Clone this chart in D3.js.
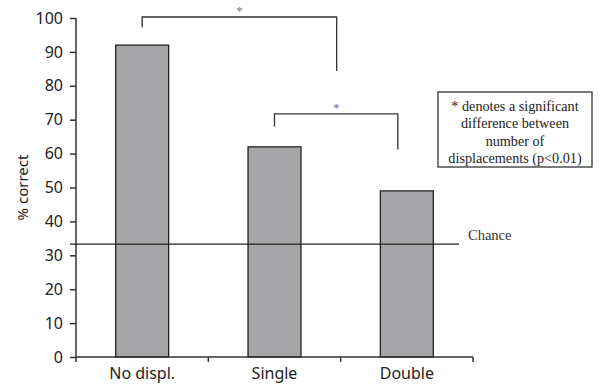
<!DOCTYPE html>
<html>
<head>
<meta charset="utf-8">
<script src="https://cdn.jsdelivr.net/npm/d3@7"></script>
<style>
  body { margin: 0; background: #fff; }
  svg { display: block; }
  .serif { font-family: "Liberation Serif", "Times New Roman", serif; }
  .sans { font-family: "Noto Sans", sans-serif; }
</style>
</head>
<body>
<svg id="chart"></svg>
<script>
const categories = ["No displ.", "Single", "Double"];
const values = [92, 62, 49];
const chance = 33.3;
const yTicks = [0, 10, 20, 30, 40, 50, 60, 70, 80, 90, 100];
// brackets: [from category, to category, top value, left end value, right end value]
const brackets = [
  ["No displ.", "Double", 100.3, 97.3, 84.4],
  ["Single", "Double", 71.7, 68, 61.2],
];
const noteLines = ["* denotes a significant", "difference between", "number of", "displacements (p<0.01)"];

const W = 602, H = 385;
const margin = { top: 18, right: 129, bottom: 28, left: 76 };
const width = W - margin.left - margin.right;
const height = H - margin.top - margin.bottom;

const svg = d3.select("#chart").attr("width", W).attr("height", H);
const g = svg.append("g").attr("transform", `translate(${margin.left},${margin.top})`);

const x = d3.scaleBand().domain(categories).range([0, width]).paddingInner(0.6).paddingOuter(0.3);
const y = d3.scaleLinear().domain([0, 100]).range([height, 0]);
const cx = (c) => x(c) + x.bandwidth() / 2;
const axisColor = "#333";

// bars
g.selectAll("rect.bar")
  .data(values)
  .join("rect")
  .attr("class", "bar")
  .attr("x", (d, i) => x(categories[i]))
  .attr("y", (d) => y(d))
  .attr("width", x.bandwidth())
  .attr("height", (d) => y(0) - y(d))
  .attr("fill", "#a6a6a8")
  .attr("stroke", "#222")
  .attr("stroke-width", 1.3);

// y axis
const yAxis = g.append("g")
  .call(d3.axisLeft(y).tickValues(yTicks).tickSize(6).tickPadding(7));
yAxis.select(".domain").attr("stroke", axisColor).attr("stroke-width", 1.5).attr("d", `M0,${y(100)}V${height + 5}`);
yAxis.selectAll(".tick line").attr("stroke", axisColor).attr("stroke-width", 1.5);
yAxis.selectAll(".tick text").attr("class", "sans").attr("font-family", null).attr("font-size", 16).attr("fill", "#222");

// x axis with ticks at category boundaries
const step = width / categories.length;
const bounds = d3.range(categories.length + 1).map((i) => i * step);
const xg = g.append("g").attr("transform", `translate(0,${height})`);
xg.append("line").attr("x1", 0).attr("x2", width).attr("stroke", axisColor).attr("stroke-width", 1.5);
xg.selectAll("line.tk").data(bounds.slice(1)).join("line")
  .attr("class", "tk")
  .attr("x1", (d) => d).attr("x2", (d) => d)
  .attr("y1", 0).attr("y2", 5)
  .attr("stroke", axisColor).attr("stroke-width", 1.5);
xg.selectAll("text").data(categories).join("text")
  .attr("class", "sans")
  .attr("x", (d) => cx(d))
  .attr("y", 22)
  .attr("text-anchor", "middle")
  .attr("font-size", 16).attr("fill", "#222")
  .text((d) => d);

// y label
svg.append("text")
  .attr("class", "sans")
  .attr("transform", `translate(28,${margin.top + y(50)}) rotate(-90)`)
  .attr("text-anchor", "middle")
  .attr("font-size", 15).attr("fill", "#222")
  .text("% correct");

// chance line
g.append("line")
  .attr("x1", -6).attr("x2", width - 14)
  .attr("y1", y(chance)).attr("y2", y(chance))
  .attr("stroke", "#222").attr("stroke-width", 1.2);
g.append("text")
  .attr("class", "serif")
  .attr("x", width - 5).attr("y", y(chance) - 4)
  .attr("font-size", 14.5).attr("fill", "#333")
  .text("Chance");

// significance brackets
brackets.forEach(([a, b, top, l, r], i) => {
  const x1 = cx(a);
  const x2 = i === 0 ? cx("Double") - step / 2 - 4 : cx(b) - 9;
  g.append("path")
    .attr("d", `M${x1},${y(l)}V${y(top)}H${x2}V${y(r)}`)
    .attr("fill", "none").attr("stroke", "#333").attr("stroke-width", 1.3);
  g.append("text")
    .attr("class", "serif")
    .attr("x", (x1 + x2) / 2).attr("y", y(top) - 2)
    .attr("text-anchor", "middle")
    .attr("font-size", 13).attr("fill", "#777")
    .text("*");
});

// note box
const box = svg.append("g").attr("transform", "translate(438,92)");
box.append("rect").attr("width", 154).attr("height", 75)
  .attr("fill", "#fff").attr("stroke", "#333").attr("stroke-width", 1.3);
box.selectAll("text").data(noteLines).join("text")
  .attr("class", "serif")
  .attr("x", 77).attr("y", (d, i) => 19 + i * 17.3)
  .attr("text-anchor", "middle")
  .attr("font-size", 14.2).attr("fill", "#222")
  .text((d) => d);
</script>
</body>
</html>
